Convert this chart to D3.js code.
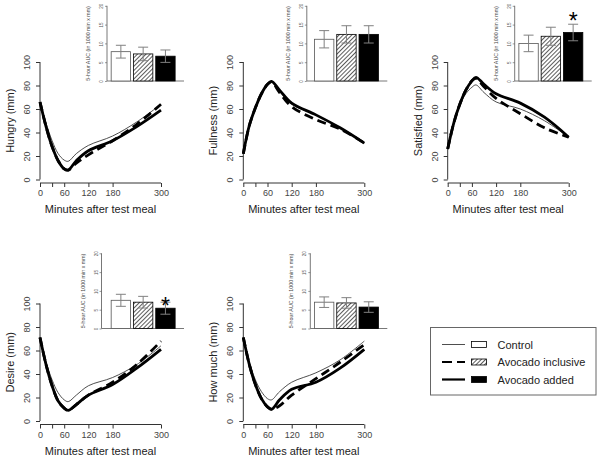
<!DOCTYPE html>
<html><head><meta charset="utf-8">
<script src="https://cdn.jsdelivr.net/npm/d3@7"></script>
<style>body{margin:0;background:#fff}svg{display:block;font-family:"Liberation Sans",Arial,sans-serif}</style>
</head><body><svg id="c" width="600" height="458"></svg>
<script>
// ---- data ----
const times = [0, 15, 30, 45, 60, 70, 90, 120, 180, 240, 300];
const panelNames = ["Hungry", "Fullness", "Satisfied", "Desire", "How much"];
const seriesNames = ["Control", "Avocado inclusive", "Avocado added"];
// VAS curves (mm), one array per panel and meal
const hungryControl   = [66, 48, 33, 22, 16.5, 15.5, 22, 29, 37, 49, 64];
const hungryInclusive = [66, 45, 28, 16, 9, 8, 14, 21, 33, 47, 64];
const hungryAdded     = [66, 45, 28, 16, 9, 8, 16, 24.5, 33, 45, 59];
const fullControl     = [22, 46, 61, 73, 81, 83, 75, 64, 55, 44, 31];
const fullInclusive   = [22, 46, 61, 73, 81, 83, 74, 62, 51, 43, 31];
const fullAdded       = [22, 46, 61, 73, 81, 83.5, 76, 65, 55, 44, 31];
const satControl      = [26, 48, 63, 73, 78.5, 80.5, 74, 66, 60, 50, 36];
const satInclusive    = [26, 48, 64, 76, 84, 86, 79, 69, 56, 44, 36];
const satAdded        = [26, 48, 64, 76, 84, 87, 81, 73, 65, 53, 36];
const desireControl   = [71, 50, 35, 24, 18, 16.5, 22, 30, 37, 48, 64];
const desireInclusive = [71, 48, 30, 17, 11, 9, 14, 22, 33, 48, 68];
const desireAdded     = [71, 48, 30, 17, 11, 9, 14, 22, 31, 45, 61];
const muchControl     = [71, 50, 35, 25, 19, 18, 25, 33, 41, 52, 68];
const muchInclusive   = [71, 48, 31, 19, 12, 10, 13, 22, 36, 50, 65];
const muchAdded       = [71, 48, 31, 19, 12, 10, 18, 27, 33, 45, 61];
// 5-hour AUC (1000 min x mm): mean and error, per panel
const aucControl    = [7.8, 11.1, 10.0, 7.5, 7.0];
const aucInclusive  = [7.2, 12.4, 11.9, 7.0, 6.8];
const aucAdded      = [6.6, 12.4, 12.9, 5.4, 5.7];
const errControl    = [1.7, 2.3, 2.2, 1.6, 1.4];
const errInclusive  = [1.8, 2.3, 2.4, 1.55, 1.4];
const errAdded      = [1.65, 2.3, 2.2, 1.6, 1.4];
// significance stars: panel index, bar index, position (AUC units)
const starPanels = [2, 3];
const starBars   = [2, 2];
const starY      = [17.2, 7.4];
const xTickValues = [0, 30, 60, 120, 180, 300];
const xTickLabels = ["0", "", "60", "120", "180", "300"];
const yTickValues = [0, 20, 40, 60, 80, 100];
const aucTickValues = [0, 5, 10, 15, 20];
const xLabel = "Minutes after test meal";
const aucLabel = "5-hour AUC (in 1000 min x mm)";

const curves = [
  [hungryControl, hungryInclusive, hungryAdded],
  [fullControl, fullInclusive, fullAdded],
  [satControl, satInclusive, satAdded],
  [desireControl, desireInclusive, desireAdded],
  [muchControl, muchInclusive, muchAdded]
];

// ---- layout ----
const panelX = [40, 243.3, 447.7, 40, 243.3];
const panelRow = [0, 0, 0, 1, 1];
const rowY0 = [179.5, 421];       // main y=0
const insetY0 = [81, 328.5];      // inset y=0
const insetAxisOff = [67, 63.5, 67, 61.5, 67];
const mainW = 121, mainH = 117.5, insetH = 75.2;

const svg = d3.select("#c");
const defs = svg.append("defs");
const pat = defs.append("pattern").attr("id", "hatch").attr("patternUnits", "userSpaceOnUse")
  .attr("width", 3).attr("height", 3).attr("patternTransform", "rotate(45)");
pat.append("rect").attr("width", 3).attr("height", 3).attr("fill", "#fff");
pat.append("line").attr("x1", 0.5).attr("y1", 0).attr("x2", 0.5).attr("y2", 3)
  .attr("stroke", "#333").attr("stroke-width", 0.8);

const styles = [
  {stroke: "#3a3a3a", width: 0.9, dash: null, fill: "#fff"},
  {stroke: "#000", width: 2.8, dash: "9,5", fill: "url(#hatch)"},
  {stroke: "#000", width: 2.8, dash: null, fill: "#000"}
];
const axisCol = "#333", textCol = "#222";

panelNames.forEach((name, p) => {
  const ax = panelX[p], row = panelRow[p], y0 = rowY0[row];
  const g = svg.append("g");
  const x = d3.scaleLinear().domain([0, 300]).range([ax, ax + mainW]);
  const y = d3.scaleLinear().domain([0, 100]).range([y0, y0 - mainH]);

  // y axis (R style)
  const yAxis = d3.axisLeft(y).tickValues(yTickValues).tickSize(4).tickFormat(d3.format("d"));
  const ya = g.append("g").attr("transform", `translate(${ax},0)`).call(yAxis);
  ya.select(".domain").attr("d", `M0,${y(0)}V${y(100)}`).attr("stroke", axisCol);
  ya.selectAll(".tick line").attr("stroke", axisCol);
  ya.selectAll(".tick text").attr("transform", "rotate(-90)").attr("x", 0).attr("y", -10)
    .attr("dy", "0").attr("text-anchor", "middle").attr("font-size", 9).attr("fill", "#444");

  // x axis
  const xAxis = d3.axisBottom(x).tickValues(xTickValues).tickSize(4)
    .tickFormat((d, i) => xTickLabels[i]);
  const xa = g.append("g").attr("transform", `translate(0,${y0 + 3.5})`).call(xAxis);
  xa.select(".domain").attr("d", `M${x(0)},0H${x(300)}`).attr("stroke", axisCol);
  xa.selectAll(".tick line").attr("stroke", axisCol);
  xa.selectAll(".tick text").attr("font-size", 9).attr("fill", "#444").attr("y", 7);
  g.selectAll(".domain").attr("stroke-width", 1);

  g.append("text").attr("x", x(150)).attr("y", y0 + 33.5).attr("text-anchor", "middle")
    .attr("font-size", 11).attr("fill", textCol).text(xLabel);
  g.append("text").attr("transform", `translate(${ax - 26},${y(50)}) rotate(-90)`)
    .attr("text-anchor", "middle").attr("font-size", 11).attr("fill", textCol).text(name + " (mm)");

  // curves
  const line = d3.line().x((d, i) => x(times[i])).y(d => y(d)).curve(d3.curveCatmullRom.alpha(0.5));
  [0, 2, 1].forEach(s => {
    const st = styles[s];
    g.append("path").datum(curves[p][s]).attr("d", line).attr("fill", "none")
      .attr("stroke", st.stroke).attr("stroke-width", st.width)
      .attr("stroke-dasharray", st.dash).attr("stroke-linejoin", "round");
  });

  // inset bar chart
  const iy0 = insetY0[row];
  const iax = ax + insetAxisOff[p];
  const iy = d3.scaleLinear().domain([0, 20]).range([iy0, iy0 - insetH]);
  const ix = d3.scaleBand().domain(seriesNames).range([ax + 70.5, ax + 135.8]).paddingInner(0.13).paddingOuter(0.03);
  const means = [aucControl[p], aucInclusive[p], aucAdded[p]];
  const errs = [errControl[p], errInclusive[p], errAdded[p]];
  const ig = g.append("g");
  ig.append("line").attr("x1", iax).attr("x2", ax + 144).attr("y1", iy0).attr("y2", iy0)
    .attr("stroke", "#555").attr("stroke-width", 0.8);
  const iAxis = d3.axisLeft(iy).tickValues(aucTickValues).tickSize(2);
  const ia = ig.append("g").attr("transform", `translate(${iax},0)`).call(iAxis);
  ia.select(".domain").attr("d", `M0,${iy(0)}V${iy(20)}`).attr("stroke", "#555").attr("stroke-width", 0.8);
  ia.selectAll(".tick line").attr("stroke", "#555").attr("stroke-width", 0.6);
  ia.selectAll(".tick text").attr("transform", "rotate(-90)").attr("x", 0).attr("y", -4)
    .attr("dy", 0).attr("text-anchor", "middle").attr("font-size", 4.5).attr("fill", "#555");
  ig.append("text").attr("transform", `translate(${iax - 17},${iy(10)}) rotate(-90)`)
    .attr("text-anchor", "middle").attr("font-size", 5.3).attr("fill", "#444").text(aucLabel);
  seriesNames.forEach((s, i) => {
    ig.append("rect").attr("x", ix(s)).attr("y", iy(means[i])).attr("width", ix.bandwidth())
      .attr("height", iy(0) - iy(means[i])).attr("fill", styles[i].fill)
      .attr("stroke", i === 0 ? "#555" : "#000").attr("stroke-width", 0.8);
    const cx = ix(s) + ix.bandwidth() / 2;
    const eg = ig.append("g").attr("stroke", "#808080").attr("stroke-width", 1);
    eg.append("line").attr("x1", cx).attr("x2", cx).attr("y1", iy(means[i] - errs[i])).attr("y2", iy(means[i] + errs[i]));
    [means[i] - errs[i], means[i] + errs[i]].forEach(v =>
      eg.append("line").attr("x1", cx - 5).attr("x2", cx + 5).attr("y1", iy(v)).attr("y2", iy(v)));
  });
  starPanels.forEach((sp, k) => {
    if (sp !== p) return;
    const s = seriesNames[starBars[k]];
    ig.append("text").attr("x", ix(s) + ix.bandwidth() / 2).attr("y", iy(starY[k]) + 13)
      .attr("text-anchor", "middle").attr("font-size", 23).attr("fill", "#000").text("*");
  });
});

// legend
const lg = svg.append("g");
lg.append("rect").attr("x", 430.5).attr("y", 327.5).attr("width", 165.5).attr("height", 67.5)
  .attr("fill", "#fff").attr("stroke", "#666").attr("stroke-width", 1);
const legendY = d3.scalePoint().domain(seriesNames).range([344.5, 379.5]);
const legendDash = [null, "10,5", null];
seriesNames.forEach((s, i) => {
  const yy = legendY(s);
  lg.append("line").attr("x1", 442).attr("x2", 465).attr("y1", yy).attr("y2", yy)
    .attr("stroke", styles[i].stroke).attr("stroke-width", i === 0 ? 0.9 : 2.2)
    .attr("stroke-dasharray", legendDash[i]);
  lg.append("rect").attr("x", 471.5).attr("y", yy - 3).attr("width", 15).attr("height", 6)
    .attr("fill", styles[i].fill).attr("stroke", "#000").attr("stroke-width", 0.8);
  lg.append("text").attr("x", 497.5).attr("y", yy + 4).attr("font-size", 11).attr("fill", textCol).text(s);
});
</script></body></html>
